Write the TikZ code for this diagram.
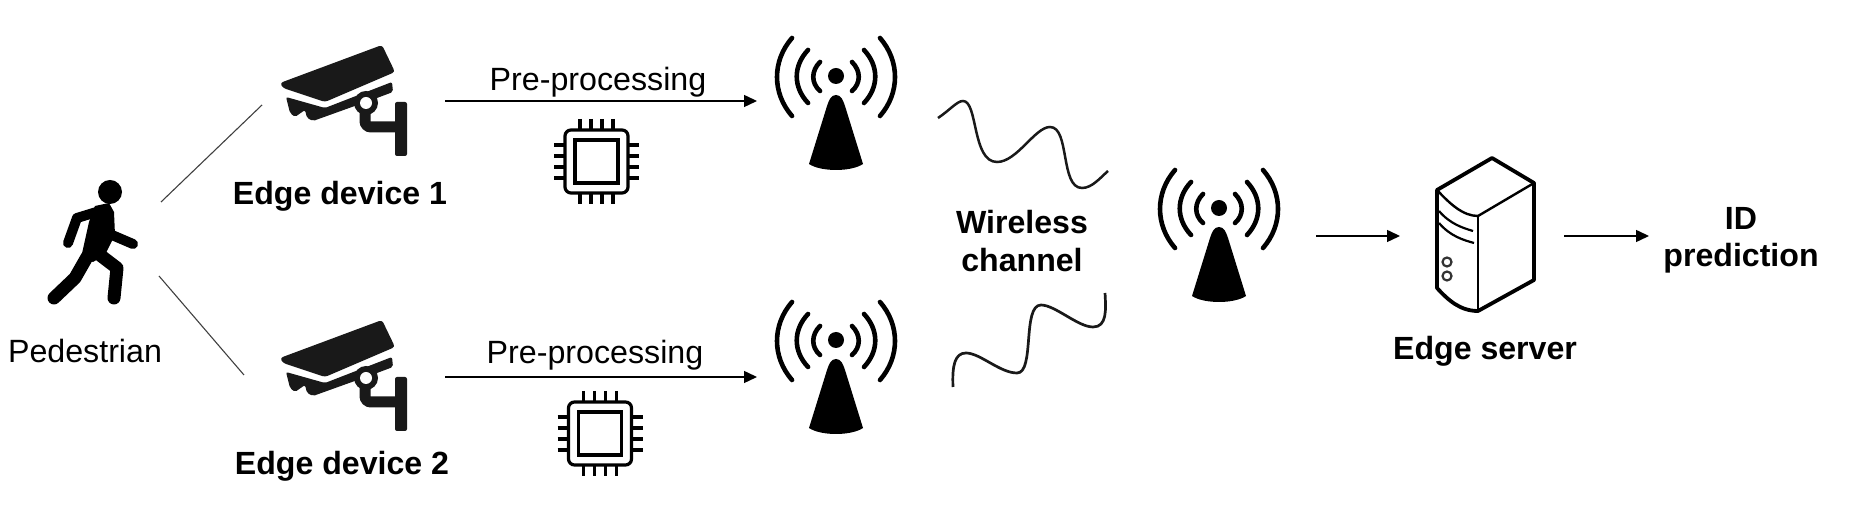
\documentclass[tikz,border=0pt]{standalone}
\usepackage{fontspec}
\setmainfont{Liberation Sans}
\usetikzlibrary{positioning, arrows.meta}

\tikzset{
  lbl/.style={font=\fontsize{16.1}{19}\selectfont, inner sep=0pt, anchor=base},
  lblb/.style={lbl, font=\fontsize{16.05}{19}\selectfont\bfseries},
  link/.style={line width=0.55pt, black!75},
  flow/.style={line width=0.7pt, -{Stealth[length=6.5pt, width=6pt, inset=0pt]}},
  wave/.style={line width=1.35pt, black!90},
  pics/person/.style={code={
    \fill (25,-58) circle (12);
    \fill (10,-44) -- (24,-47) -- (29,-38) -- (30,-15) -- (20,5) -- (8,12) -- (-4,8) -- (4,-28) -- cycle;
    \draw[line width=5pt, line cap=round, line join=round] (18,-40) -- (-8,-32) -- (-17,-7);
    \draw[line width=5pt, line cap=round] (27,-15) -- (48,-6);
    \draw[line width=6.5pt, line cap=round, line join=round] (2,7) -- (-10,28) -- (-31,48);
    \draw[line width=6.5pt, line cap=round, line join=round] (15,5) -- (32,18) -- (29,48);
  }},
  pics/camera/.style={code={
    \fill[black!90, rounded corners=1.5pt] (-60,-17) -- (42,-55) -- (55,-28) -- (-15,2) -- (-57,-12) -- cycle;
    \fill[black!90, rounded corners=1pt] (-54,-3) -- (-15,8) -- (52,-18) -- (53,-8) -- (37,-2) -- (-27,21)
      -- (-33,18) -- (-35,10) -- (-45,17) -- (-50,13) -- cycle;
    \draw[black!90, line width=5.5pt, rounded corners=3pt] (25,5) -- (25,27) -- (60,27);
    \fill[black!90, rounded corners=1pt] (55,2) rectangle (67,56);
    \fill[black!90] (26,3) circle (12);
    \fill[white] (26,3) circle (6);
  }},
  pics/chip/.style={code={
    \draw[line width=1.6pt, rounded corners=3pt] (-31.5,-31.5) rectangle (31.5,31.5);
    \draw[line width=1.6pt] (-21.5,-21.5) rectangle (21.5,21.5);
    \foreach \p in {-16.5,-5.5,5.5,16.5} {
      \draw[line width=1.6pt] (\p,-42.5) -- (\p,-31.5);
      \draw[line width=1.6pt] (\p,31.5) -- (\p,42.5);
      \draw[line width=1.6pt] (-42.5,\p) -- (-31.5,\p);
      \draw[line width=1.6pt] (31.5,\p) -- (42.5,\p);
    }
  }},
  pics/tower/.style={code={
    \fill (0,0) circle (8);
    \fill (0,19) .. controls (5,19) and (7,24) .. (9,30) -- (27,88)
      .. controls (15,96) and (-15,96) .. (-27,88) -- (-9,30) .. controls (-7,24) and (-5,19) .. (0,19) -- cycle;
    \foreach \s in {-1,1} {
      \begin{scope}[xscale=\s, line width=2.3pt, line cap=round]
        \draw (16,-14) .. controls (25,-5) and (25,7) .. (16,15);
        \draw (28,-26) .. controls (43,-10) and (43,11) .. (28,27);
        \draw (44,-38) .. controls (64,-15) and (64,17) .. (44,40);
      \end{scope}
    }
  }},
  pics/server/.style={code={
    % Outline
    \draw[line width=1.9pt, line join=round] (-41,-46) -- (14,-78) -- (56,-53) -- (56,44) -- (0,75)
      .. controls (-18,75) and (-30,64) .. (-41,52) -- cycle;
    % Inner edges
    \draw[line width=1.2pt] (-41,-46) .. controls (-28,-32) and (-15,-20) .. (0,-20) -- (56,-53);
    \draw[line width=1.2pt] (0,-20) -- (0,75);
    \draw[line width=1.1pt] (-39,-25) .. controls (-28,-12) and (-15,-8) .. (-5,-5);
    \draw[line width=1.1pt] (-39,-13) .. controls (-28,0) and (-15,4) .. (-4,7);
    \draw[line width=1.1pt, black!80] (-31,26) circle (4.5);
    \draw[line width=1.1pt, black!80] (-31,40) circle (4.5);
  }},
}

\begin{document}
\begin{tikzpicture}[x=0.5pt, y=-0.5pt, >=Stealth]
  \useasboundingbox (0,0) rectangle (1872,506);

  % Icons
  \pic at (85,250) {person};
  \pic at (340,100) {camera};
  \pic at (340,375) {camera};
  \pic at (596.5,161.5) {chip};
  \pic at (600,433.5) {chip};
  \pic at (836,76) {tower};
  \pic at (836,340) {tower};
  \pic at (1219,208) {tower};
  \pic at (1478,236) {server};

  % Nodes
  \node[lbl] (ped) at (85,363) {Pedestrian};
  \node[lblb] (dev1) at (340,205) {Edge device 1};
  \node[lblb] (dev2) at (342,475) {Edge device 2};
  \node[lbl] (pre1) at (598,91) {Pre-processing};
  \node[lbl] (pre2) at (595,364) {Pre-processing};
  \node[lblb] (wl) at (1022,234) {Wireless};
  \node[lblb] (ch) at (1022,272) {channel};
  \node[lblb] (srv) at (1485,360) {Edge server};
  \node[lblb] (id) at (1741,230) {ID};
  \node[lblb] (pred) at (1741,267) {prediction};

  % Connector ends
  \coordinate (pa) at (161,202);
  \coordinate (pb) at (159,276);
  \coordinate (ca) at (262,105);
  \coordinate (cb) at (244,375);
  \coordinate (ua) at (445,101);
  \coordinate (ub) at (757,101);
  \coordinate (la) at (445,377);
  \coordinate (lb) at (757,377);
  \coordinate (ra) at (1316,236);
  \coordinate (rb) at (1400,236);
  \coordinate (sa) at (1564,236);
  \coordinate (sb) at (1649,236);

  % Edges
  \draw[link] (pa) -- (ca);
  \draw[link] (pb) -- (cb);
  \draw[flow] (ua) -- (ub);
  \draw[flow] (la) -- (lb);
  \draw[flow] (ra) -- (rb);
  \draw[flow] (sa) -- (sb);

  % Curved lines
  \draw[wave, line width=1.25pt] (938,118) .. controls (950,110) and (957,101) .. (963,101)
    .. controls (978,101) and (972,162) .. (997,162)
    .. controls (1017,162) and (1035,127) .. (1050,127)
    .. controls (1070,127) and (1060,188) .. (1082,188)
    .. controls (1092,188) and (1100,178) .. (1108,171);
  \draw[wave] (953,387) .. controls (952,365) and (955,353) .. (966,353)
    .. controls (980,353) and (1000,373) .. (1017,373)
    .. controls (1035,373) and (1022,305) .. (1041,305)
    .. controls (1055,305) and (1078,327) .. (1093,327)
    .. controls (1107,327) and (1106,310) .. (1105,293);
\end{tikzpicture}
\end{document}
